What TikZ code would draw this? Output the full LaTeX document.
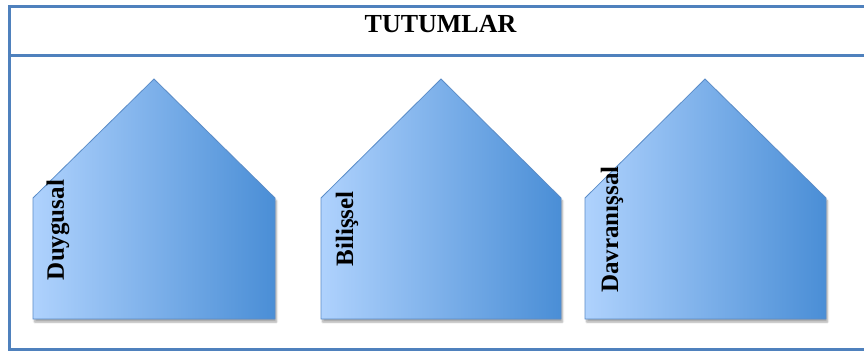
\documentclass[tikz,border=0pt]{standalone}
\usepackage{fontspec}
\setmainfont{Liberation Serif}
\usetikzlibrary{shadows.blur}
\definecolor{frameblue}{HTML}{4F81BD}
\definecolor{edgeblue}{HTML}{5A8CC8}
\definecolor{lightfill}{HTML}{AFD2FD}
\definecolor{darkfill}{HTML}{4A8ED6}
\tikzset{
  frameline/.style={draw=frameblue, line width=3.2pt},
  house/.style={draw=edgeblue, line width=0.8pt, left color=lightfill, right color=darkfill,
    blur shadow={shadow xshift=1.5pt, shadow yshift=-3pt, shadow blur steps=6, shadow opacity=35}},
  label/.style={rotate=90, font=\fontsize{25}{27}\selectfont\bfseries, inner sep=0pt},
  title/.style={font=\fontsize{26}{28}\selectfont\bfseries, inner sep=0pt, anchor=base}
}
\begin{document}
\begin{tikzpicture}[x=1pt, y=-1pt]
\useasboundingbox (0,0) rectangle (864,351);
% frame
\draw[frameline] (870,6.5) -- (9.5,6.5) -- (9.5,349.5) -- (870,349.5);
\draw[frameline] (9.5,55.5) -- (870,55.5);
\node[title] (t) at (440.5,32) {TUTUMLAR};
% houses
\path[house] (33,198) -- (154,79) -- (275,198) -- (275,319) -- (33,319) -- cycle;
\path[house] (321,198) -- (441,79) -- (561,198) -- (561,319) -- (321,319) -- cycle;
\path[house] (585,198) -- (705,79) -- (826,198) -- (826,319) -- (585,319) -- cycle;
\node[label] (a) at (58,230) {Duygusal};
\node[label] (b) at (347,229) {Bilişsel};
\node[label] (c) at (612,229.5) {Davranışsal};
\end{tikzpicture}
\end{document}
